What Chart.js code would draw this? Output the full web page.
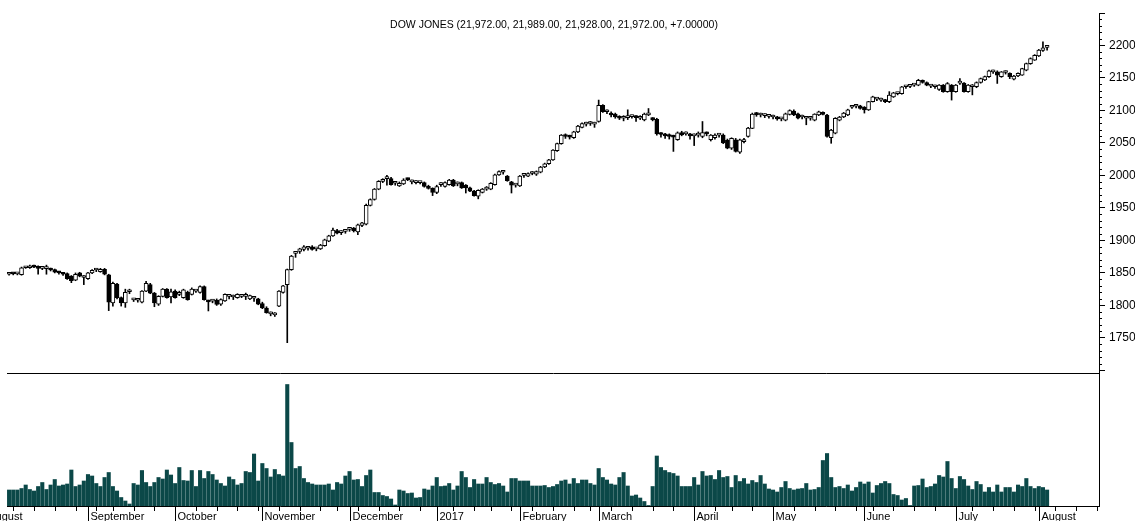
<!DOCTYPE html>
<html>
<head>
<meta charset="utf-8">
<script src="https://cdn.jsdelivr.net/npm/chart.js@4/dist/chart.umd.min.js"></script>
<style>
  html, body { margin: 0; padding: 0; background: #fff; overflow: hidden; }
  #wrap { position: relative; width: 1135px; height: 521px; }
  canvas { position: absolute; left: 0; }
  #priceChart { top: 0; }
  #volChart { top: 373px; }
</style>
</head>
<body>
<div id="wrap">
  <canvas id="priceChart" width="1135" height="374"></canvas>
  <canvas id="volChart" width="1135" height="148"></canvas>
</div>
<script>
const titleText = 'DOW JONES (21,972.00, 21,989.00, 21,928.00, 21,972.00, +7.00000)';

// trading days, month by month (the last few August days are empty slots)
const months = ['2016-08', '2016-09', '2016-10', '2016-11', '2016-12', '2017-01', '2017-02',
                '2017-03', '2017-04', '2017-05', '2017-06', '2017-07', '2017-08'];
const monthDays = [
    [5, 8, 9, 10, 11, 12, 15, 16, 17, 18, 19, 22, 23, 24, 25, 26, 29, 30, 31],
    [1, 2, 6, 7, 8, 9, 12, 13, 14, 15, 16, 19, 20, 21, 22, 23, 26, 27, 28, 29, 30],
    [3, 4, 5, 6, 7, 10, 11, 12, 13, 14, 17, 18, 19, 20, 21, 24, 25, 26, 27, 28, 31],
    [1, 2, 3, 4, 7, 8, 9, 10, 11, 14, 15, 16, 17, 18, 21, 22, 23, 25, 28, 29, 30],
    [1, 2, 5, 6, 7, 8, 9, 12, 13, 14, 15, 16, 19, 20, 21, 22, 23, 27, 28, 29, 30],
    [3, 4, 5, 6, 9, 10, 11, 12, 13, 17, 18, 19, 20, 23, 24, 25, 26, 27, 30, 31],
    [1, 2, 3, 6, 7, 8, 9, 10, 13, 14, 15, 16, 17, 21, 22, 23, 24, 27, 28],
    [1, 2, 3, 6, 7, 8, 9, 10, 13, 14, 15, 16, 17, 20, 21, 22, 23, 24, 27, 28, 29, 30, 31],
    [3, 4, 5, 6, 7, 10, 11, 12, 13, 17, 18, 19, 20, 21, 24, 25, 26, 27, 28],
    [1, 2, 3, 4, 5, 8, 9, 10, 11, 12, 15, 16, 17, 18, 19, 22, 23, 24, 25, 26, 30, 31],
    [1, 2, 5, 6, 7, 8, 9, 12, 13, 14, 15, 16, 19, 20, 21, 22, 23, 26, 27, 28, 29, 30],
    [3, 5, 6, 7, 10, 11, 12, 13, 14, 17, 18, 19, 20, 21, 24, 25, 26, 27, 28, 31],
    [1, 2, 3, 4, 7, 8, 9, 10, 11, 14, 15, 16, 17, 18, 21]
];
const monthLabels = ['August', 'September', 'October', 'November', 'December', '2017', 'February',
                     'March', 'April', 'May', 'June', 'July', 'August'];

const openPrices = [
    18480,18490,18485,18475,18580,18580,18610,18585,18570,18565,18560,18550,18510,18490,18490,18450,18390,18500,18430,
    18410,18500,18545,18520,18555,18470,18040,18330,18120,18040,18210,18085,18080,18050,18220,18320,18190,18020,18140,18250,18130,
    18220,18170,18120,18200,18170,18220,18200,18290,18060,18065,18080,18020,18070,18140,18130,18120,18140,18140,18100,18110,18100,
    18030,17960,17870,17855,17990,18200,18320,18550,18800,18830,18860,18880,18900,18870,18870,18920,18990,19070,19150,19120,19140,
    19170,19190,19130,19230,19250,19540,19630,19790,19910,19950,19950,19880,19840,19870,19940,19900,19890,19890,19890,19830,19800,
    19740,19860,19830,19860,19930,19870,19890,19850,19810,19760,19680,19740,19790,19790,19860,20010,20050,19990,19900,19850,
    19840,20000,19990,20030,20020,20050,20130,20180,20240,20380,20490,20610,20600,20580,20670,20740,20790,20800,20790,
    20830,21080,20980,20960,20945,20900,20880,20890,20905,20900,20880,20855,20930,20870,20865,20640,20620,20610,20600,20550,20660,20640,20620,
    20610,20620,20600,20650,20550,20580,20620,20620,20540,20420,20550,20360,20520,20600,20725,20940,20930,20920,20910,
    20900,20880,20870,20850,20940,20990,20950,20900,20880,20880,20850,20930,20960,20930,20580,20650,20850,20900,20930,21050,21065,21070,
    21050,21010,21135,21175,21160,21160,21135,21210,21260,21260,21365,21370,21390,21390,21465,21430,21375,21365,21325,21390,21290,21390,
    21290,21420,21420,21290,21365,21365,21430,21470,21520,21595,21595,21520,21585,21570,21480,21530,21545,21620,21720,21775,
    21840,21925,21972
];
const highPrices = [
    18505,18500,18505,18590,18600,18620,18620,18610,18590,18620,18575,18560,18525,18500,18500,18460,18500,18510,18460,
    18510,18550,18570,18570,18570,18480,18360,18340,18130,18250,18250,18110,18100,18230,18370,18340,18200,18150,18260,18260,18250,
    18240,18220,18250,18220,18270,18240,18300,18300,18080,18090,18100,18100,18180,18170,18160,18180,18160,18190,18160,18140,18110,
    18050,17980,17900,17890,18230,18310,18560,18770,18830,18880,18920,18910,18920,18890,18940,19020,19080,19190,19170,19150,19160,
    19200,19200,19250,19280,19560,19640,19800,19920,19950,20000,19970,19910,19900,19950,19960,19930,19920,19910,19900,19850,19810,
    19850,19890,19900,19940,19940,19900,19900,19860,19820,19770,19780,19800,19830,19890,20020,20070,20070,20000,19910,19870,
    20000,20020,20040,20060,20070,20140,20190,20250,20400,20500,20630,20640,20620,20680,20770,20810,20820,20830,20820,
    21160,21090,21010,20980,20960,20920,20920,21010,20930,20920,20920,20960,21030,20890,20880,20660,20650,20640,20620,20670,20680,20670,20650,
    20640,20670,20830,20670,20630,20640,20650,20640,20560,20580,20570,20560,20570,20740,20960,20970,20960,20950,20940,
    20930,20910,20890,20960,21010,21010,20960,20930,20900,20900,20950,20990,20980,20940,20710,20890,20910,20970,21020,21080,21090,21080,
    21060,21140,21220,21200,21190,21170,21290,21280,21280,21370,21380,21390,21410,21480,21470,21440,21400,21390,21400,21400,21430,21400,
    21400,21490,21430,21400,21400,21440,21500,21530,21620,21620,21610,21600,21610,21580,21540,21580,21650,21730,21810,21860,
    21940,22055,21989
];
const lowPrices = [
    18465,18470,18470,18465,18570,18570,18580,18480,18550,18480,18530,18500,18480,18460,18400,18350,18380,18440,18320,
    18400,18490,18520,18510,18470,17920,17990,18100,17990,17970,18180,18060,18050,18040,18210,18180,17980,18000,18130,18110,18040,
    18110,18150,18110,18080,18160,18200,18190,18080,17915,18040,18000,18000,18060,18100,18090,18110,18120,18090,18090,18060,18010,
    17950,17880,17840,17830,17980,18190,17427,18540,18740,18800,18840,18850,18850,18840,18860,18910,18980,19060,19100,19090,19110,
    19140,19130,19090,19210,19240,19530,19620,19780,19890,19850,19850,19850,19830,19860,19920,19870,19870,19870,19820,19790,19690,
    19720,19830,19820,19850,19830,19840,19800,19730,19750,19680,19640,19730,19770,19780,19850,20000,20020,19910,19730,19820,
    19830,19970,19980,20010,20000,20040,20120,20170,20230,20370,20480,20570,20560,20570,20660,20730,20760,20770,20740,
    20820,20970,20950,20900,20880,20860,20840,20860,20880,20830,20860,20840,20920,20840,20620,20590,20570,20560,20370,20540,20610,20620,20560,
    20460,20590,20580,20610,20530,20560,20590,20490,20410,20400,20360,20340,20500,20590,20720,20910,20900,20890,20880,
    20870,20850,20840,20840,20930,20920,20870,20870,20780,20850,20840,20920,20930,20590,20495,20640,20840,20890,20920,21030,21040,21020,
    20960,21000,21130,21150,21140,21120,21120,21200,21240,21250,21340,21350,21370,21380,21420,21380,21350,21340,21310,21280,21280,21160,
    21280,21400,21280,21280,21240,21350,21420,21460,21510,21570,21416,21510,21560,21490,21470,21520,21540,21610,21710,21770,
    21830,21910,21928
];
const closePrices = [
    18490,18485,18495,18580,18590,18610,18590,18570,18570,18565,18545,18510,18500,18480,18410,18380,18480,18450,18430,
    18500,18540,18545,18555,18480,18050,18340,18120,18040,18200,18210,18085,18080,18220,18340,18190,18040,18140,18250,18120,18210,
    18120,18190,18240,18090,18250,18220,18290,18090,18055,18065,18015,18090,18170,18140,18130,18170,18140,18140,18150,18110,18020,
    17960,17890,17870,17855,18220,18300,18550,18760,18800,18870,18900,18880,18860,18870,18930,19010,19070,19160,19110,19120,19140,
    19170,19150,19240,19270,19540,19630,19790,19910,19940,19950,19860,19880,19880,19930,19935,19900,19890,19890,19830,19800,19740,
    19830,19860,19890,19930,19840,19870,19810,19810,19760,19690,19770,19790,19810,19880,20010,20060,20050,19920,19850,19850,
    19990,20000,20030,20030,20060,20130,20180,20240,20390,20490,20620,20600,20590,20670,20760,20800,20790,20800,20790,
    21080,20980,20980,20930,20900,20880,20880,20900,20905,20890,20890,20945,20965,20860,20640,20630,20610,20600,20590,20655,20625,20650,20610,
    20610,20630,20660,20640,20620,20620,20620,20500,20420,20570,20370,20550,20550,20730,20945,20935,20930,20920,20910,
    20900,20870,20870,20950,21000,20930,20880,20910,20880,20880,20945,20980,20940,20600,20700,20880,20900,20960,21010,21050,21065,21030,
    21010,21135,21210,21175,21160,21135,21235,21270,21260,21365,21365,21370,21390,21465,21430,21390,21375,21365,21390,21290,21415,21290,
    21390,21420,21290,21390,21365,21430,21490,21520,21610,21595,21545,21595,21585,21520,21530,21570,21645,21720,21800,21850,
    21930,21965,21972
];
// volume, thousands of contracts
const volumes = [
    32,32,32,35,42,33,30,39,47,33,42,53,40,42,44,72,39,42,50,
    63,60,45,39,57,67,39,30,17,10,4,45,42,71,47,39,47,57,54,72,62,
    45,77,51,50,71,39,71,55,69,63,52,45,40,58,53,42,45,69,67,104,50,
    85,75,58,73,63,60,243,127,75,79,55,47,44,42,42,42,44,32,47,44,60,
    69,52,53,39,61,72,27,27,21,19,14,2,32,30,25,26,16,17,34,32,40,
    57,39,40,45,32,40,69,57,37,53,44,44,57,47,43,45,40,28,55,55,
    50,50,50,40,40,40,41,37,39,43,50,52,44,55,45,52,52,45,42,
    75,57,52,44,42,57,67,40,20,22,16,9,1,39,100,77,71,67,65,60,39,39,39,
    57,42,69,60,61,53,71,57,59,37,61,49,55,44,51,47,61,44,34,
    32,28,37,49,35,32,34,35,45,32,33,37,91,105,57,37,39,35,42,30,37,48,
    44,48,26,41,45,49,45,23,21,12,15,1,40,41,54,37,39,44,61,58,89,55,
    35,59,53,40,33,49,43,28,37,28,42,28,37,37,28,42,39,55,39,35,
    39,37,32
];

const FONT = '"Liberation Sans", Arial, Helvetica, sans-serif';
Chart.defaults.font.family = FONT;
Chart.defaults.color = '#000';

const dates = [];
monthDays.forEach((days, m) => days.forEach(d => dates.push(months[m] + '-' + String(d).padStart(2, '0'))));

const bodies = openPrices.map((o, i) => [Math.min(o, closePrices[i]), Math.max(o, closePrices[i])]);
const wicks = lowPrices.map((l, i) => [l, highPrices[i]]);

// force axis box sizes and drop the label overflow padding
function fixBox(w, h) {
    return s => {
        if (w !== null) s.width = w;
        if (h !== null) s.height = h;
        s.paddingTop = 0;
        s.paddingBottom = 0;
        s.paddingLeft = 0;
        s.paddingRight = 0;
    };
}

// minor ticks on the price axis + title
const priceDecor = {
    id: 'priceDecor',
    afterDraw(chart) {
        const { ctx, chartArea } = chart;
        const y = chart.scales.y;
        ctx.save();
        ctx.strokeStyle = '#000';
        ctx.lineWidth = 1;
        ctx.beginPath();
        for (let v = 17100; v < 22500; v += 100) {
            if (v % 500 === 0) continue;
            const py = Math.round(y.getPixelForValue(v)) + 0.5;
            ctx.moveTo(chartArea.right, py);
            ctx.lineTo(chartArea.right + 3, py);
        }
        ctx.stroke();
        ctx.fillStyle = '#000';
        ctx.font = '10.5px ' + FONT;
        ctx.textAlign = 'center';
        ctx.textBaseline = 'middle';
        ctx.fillText(titleText, 554, 25);
        ctx.restore();
    }
};

// weekly ticks, month separators and month names under the volume panel
const timeAxis = {
    id: 'timeAxis',
    afterDraw(chart) {
        const { ctx, chartArea } = chart;
        const x = chart.scales.x;
        const base = chartArea.bottom;
        ctx.save();
        ctx.strokeStyle = '#000';
        ctx.lineWidth = 1;
        ctx.fillStyle = '#000';
        ctx.font = '11px ' + FONT;
        ctx.textAlign = 'left';
        ctx.textBaseline = 'alphabetic';
        ctx.beginPath();
        let label = 1;
        for (let i = 1; i < dates.length; i++) {
            const cur = new Date(dates[i] + 'T00:00:00Z');
            const prev = new Date(dates[i - 1] + 'T00:00:00Z');
            const px = Math.round(x.getPixelForValue(i)) + 0.5;
            if (cur.getUTCMonth() !== prev.getUTCMonth()) {
                ctx.moveTo(px, base);
                ctx.lineTo(px, base + 16);
                ctx.fillText(monthLabels[label++], px + 2, base + 14);
            } else if (cur.getUTCDay() < prev.getUTCDay()) {
                ctx.moveTo(px, base);
                ctx.lineTo(px, base + 5);
            }
        }
        ctx.stroke();
        // August 2016 starts before the first bar
        ctx.fillText(monthLabels[0], x.getPixelForValue(-5.5) + 2, base + 14);
        ctx.restore();
    }
};

new Chart(document.getElementById('priceChart'), {
    type: 'bar',
    data: {
        labels: dates,
        datasets: [
            {
                data: bodies,
                backgroundColor: c => closePrices[c.dataIndex] >= openPrices[c.dataIndex] ? '#fff' : '#000',
                borderColor: '#000',
                borderWidth: 1,
                borderSkipped: false,
                barThickness: 4,
                minBarLength: 2,
                grouped: false
            },
            {
                data: wicks,
                backgroundColor: '#000',
                barThickness: 1,
                grouped: false
            }
        ]
    },
    options: {
        responsive: false,
        animation: false,
        devicePixelRatio: 1,
        events: [],
        layout: { padding: { left: 7, top: 13, right: 0, bottom: 0 } },
        plugins: { legend: { display: false }, tooltip: { enabled: false } },
        scales: {
            x: {
                ticks: { display: false },
                grid: { display: false },
                border: { display: true, color: '#000' },
                afterFit: fixBox(null, 1)
            },
            y: {
                position: 'right',
                min: 16960,
                max: 22500,
                afterFit: fixBox(36, null),
                ticks: {
                    stepSize: 100,
                    maxTicksLimit: 1000,
                    includeBounds: false,
                    autoSkip: false,
                    padding: 4,
                    font: { size: 12 },
                    color: '#000',
                    callback: v => (v % 500 === 0 && v >= 17500 && v <= 22000) ? String(v) : ''
                },
                grid: {
                    drawOnChartArea: false,
                    tickLength: 6,
                    tickColor: c => (c.tick && c.tick.value % 500 === 0) ? '#000' : 'rgba(0,0,0,0)'
                },
                border: { display: true, color: '#000' }
            }
        }
    },
    plugins: [priceDecor]
});

new Chart(document.getElementById('volChart'), {
    type: 'bar',
    data: {
        labels: dates,
        datasets: [{ data: volumes, backgroundColor: '#0b4848', barThickness: 3.4 }]
    },
    options: {
        responsive: false,
        animation: false,
        devicePixelRatio: 1,
        events: [],
        layout: { padding: { left: 7, top: 0, right: 0, bottom: 0 } },
        plugins: { legend: { display: false }, tooltip: { enabled: false } },
        scales: {
            x: {
                ticks: { display: false },
                grid: { display: false },
                border: { display: true, color: '#000' },
                afterFit: fixBox(null, 15)
            },
            y: {
                position: 'right',
                min: 0,
                max: 266,
                ticks: { display: false },
                grid: { display: false },
                border: { display: true, color: '#000' },
                afterFit: fixBox(36, null)
            }
        }
    },
    plugins: [timeAxis]
});
</script>
</body>
</html>
